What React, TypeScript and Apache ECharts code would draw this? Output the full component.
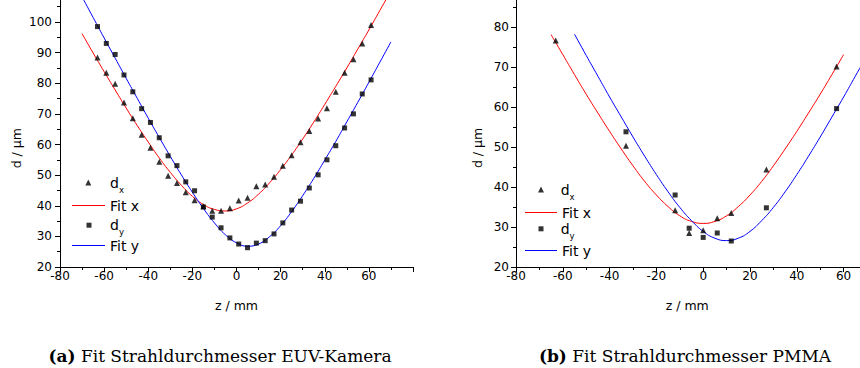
import { useEffect, useRef } from 'react';
import * as echarts from 'echarts';

// ---------- (a) EUV-Kamera ----------
const zA = [-63, -59, -55, -51, -47, -43, -39, -35, -31, -27, -23, -19, -15, -11, -7, -3, 1, 5, 9, 13, 17, 21, 25, 29, 33, 37, 41, 45, 49, 53, 57, 61];
const dxA = [88.4, 83.4, 79.8, 73.7, 68.6, 63.2, 58.9, 54.4, 49.8, 47.4, 44.4, 41.8, 39.8, 38.4, 38.4, 39.2, 41.7, 42.6, 46.4, 46.9, 49.5, 53.1, 56.5, 60.7, 64.4, 68.5, 71.8, 77.2, 83.4, 87.8, 93.0, 99.0];
const dyA = [98.5, 93.0, 89.4, 82.7, 77.2, 71.7, 67.2, 62.2, 56.3, 53.1, 47.8, 44.9, 39.6, 36.3, 32.8, 29.5, 27.5, 26.3, 27.8, 28.6, 30.8, 34.4, 38.6, 41.5, 45.8, 50.1, 55.0, 59.6, 65.4, 70.0, 76.5, 81.1];
const fitZA = [-70, -65, -60, -55, -50, -45, -40, -35, -30, -25, -20, -15, -10, -5, 0, 5, 10, 15, 20, 25, 30, 35, 40, 45, 50, 55, 60, 65, 70];
const fitXA = [96.2, 89.9, 83.8, 77.8, 71.9, 66.2, 60.8, 55.6, 50.9, 46.7, 43.1, 40.4, 38.8, 38.3, 39.0, 40.9, 43.8, 47.5, 51.8, 56.6, 61.8, 67.3, 73.1, 79.0, 85.0, 91.2, 97.4, 103.8, 110.1];
const fitYA = [108.2, 101.5, 94.8, 88.2, 81.6, 75.1, 68.6, 62.3, 56.1, 50.1, 44.4, 39.1, 34.4, 30.5, 27.9, 26.8, 27.5, 29.9, 33.5, 38.1, 43.3, 48.9, 54.9, 61.0, 67.4, 73.8, 80.3, 86.9, 93.5];

// ---------- (b) PMMA ----------
const zBx = [-63, -33, -12, -6, 0, 6, 12, 27, 57];
const dxB = [76.6, 50.3, 34.2, 28.5, 29.2, 32.2, 33.5, 44.4, 70.1];
const zBy = [-33, -12, -6, 0, 6, 12, 27, 57];
const dyB = [53.8, 38.0, 29.7, 27.4, 28.5, 26.5, 34.8, 59.6];
const fitZBx = [-65, -60, -55, -50, -45, -40, -35, -30, -25, -20, -15, -10, -5, 0, 5, 10, 15, 20, 25, 30, 35, 40, 45, 50, 55, 60];
const fitXB = [78.1, 73.1, 68.1, 63.2, 58.5, 53.9, 49.5, 45.3, 41.4, 38.0, 35.1, 32.8, 31.4, 30.9, 31.4, 32.8, 35.1, 38.0, 41.4, 45.3, 49.5, 53.9, 58.5, 63.2, 68.1, 73.1];
const fitZBy = [-55, -50, -45, -40, -35, -30, -25, -20, -15, -10, -5, 0, 5, 10, 15, 20, 25, 30, 35, 40, 45, 50, 55, 60, 65, 70];
const fitYB = [78.2, 72.9, 67.7, 62.5, 57.5, 52.5, 47.7, 43.1, 38.8, 34.9, 31.6, 28.9, 27.2, 26.6, 27.2, 28.9, 31.6, 34.9, 38.8, 43.1, 47.7, 52.5, 57.5, 62.5, 67.7, 72.9];

const xTickInterval = 20;
const yTickInterval = 10;
const xLabel = 'z / mm';
const yLabel = 'd / µm';
const captionA = 'Fit Strahldurchmesser EUV-Kamera';
const captionB = 'Fit Strahldurchmesser PMMA';

const SANS = 'DejaVu Sans';
const SERIF = 'DejaVu Serif';
const BLACK = '#000000';
const RED = '#ff0000';
const BLUE = '#0000ff';

const pairs = (xs: number[], ys: number[]) => xs.map((x, i) => [x, ys[i]]);

const xAxis = (gridIndex: number, nameShift: number) => ({
  type: 'value',
  gridIndex,
  min: -80,
  max: 80,
  interval: xTickInterval,
  name: xLabel,
  nameLocation: 'middle',
  nameGap: 32,
  nameTextStyle: { fontFamily: SANS, fontSize: 12.5, color: BLACK, padding: [0, nameShift, 0, 0] },
  axisLine: { show: true, onZero: false, lineStyle: { color: BLACK, width: 1 } },
  axisTick: { show: true, length: 5, lineStyle: { color: BLACK, width: 1 } },
  minorTick: { show: true, splitNumber: 2, length: 3, lineStyle: { color: BLACK, width: 1 } },
  axisLabel: { fontFamily: SANS, fontSize: 12, color: BLACK, margin: 3, showMaxLabel: false },
  splitLine: { show: false },
  minorSplitLine: { show: false },
});

const yAxis = (gridIndex: number, max: number, nameGap: number, nameShift: number, margin: number) => ({
  type: 'value',
  gridIndex,
  min: 20,
  max,
  interval: yTickInterval,
  name: yLabel,
  nameLocation: 'middle',
  nameGap,
  nameTextStyle: { fontFamily: SANS, fontSize: 12.5, color: BLACK, padding: [0, nameShift, 0, 0] },
  axisLine: { show: true, onZero: false, lineStyle: { color: BLACK, width: 1 } },
  axisTick: { show: true, length: 5, lineStyle: { color: BLACK, width: 1 } },
  minorTick: { show: true, splitNumber: 2, length: 3, lineStyle: { color: BLACK, width: 1 } },
  axisLabel: { fontFamily: SANS, fontSize: 12, color: BLACK, margin, showMaxLabel: false },
  splitLine: { show: false },
  minorSplitLine: { show: false },
});

const legendRich = {
  a: { fontFamily: SANS, fontSize: 14, lineHeight: 16, color: BLACK },
  s: { fontFamily: SANS, fontSize: 8.5, lineHeight: 10, padding: [14, 0, 0, 0], color: BLACK },
};

const legendEntry = (
  name: string,
  label: string,
  sub: string,
  left: number,
  top: number,
  itemWidth: number,
  itemHeight: number,
  textPad: number,
  icon?: string
) => ({
  show: true,
  left,
  top,
  padding: 0,
  orient: 'vertical',
  selectedMode: false,
  itemWidth,
  itemHeight,
  data: [icon ? { name, icon } : name],
  formatter: () => (sub ? `{a|${label}}{s|${sub}}` : `{a|${label}}`),
  textStyle: { fontFamily: SANS, fontSize: 14, color: BLACK, padding: [0, 0, 0, textPad], rich: legendRich },
});

const option = {
  animation: false,
  backgroundColor: '#ffffff',
  grid: [
    { left: 60, top: -8.625, width: 353, height: 275.625, containLabel: false, outerBoundsMode: 'none' },
    { left: 516, top: -13, width: 374.4, height: 280, containLabel: false, outerBoundsMode: 'none' },
  ],
  xAxis: [xAxis(0, 0), xAxis(1, 32)],
  yAxis: [yAxis(0, 110, 37, 38, 8), yAxis(1, 90, 32, 42, 7)],
  legend: [
    legendEntry('dx_a', 'd', 'x', 85.3, 171, 6, 6, 13.7),
    legendEntry('fitx_a', 'Fit x', '', 72, 198.5, 33, 1, 0, 'rect'),
    legendEntry('dy_a', 'd', 'y', 86.5, 213.7, 5, 5, 13.5),
    legendEntry('fity_a', 'Fit y', '', 72, 238.5, 33, 1, 0, 'rect'),
    legendEntry('dx_b', 'd', 'x', 538, 178, 6, 6, 11.7),
    legendEntry('fitx_b', 'Fit x', '', 525, 205.5, 32, 1, 0, 'rect'),
    legendEntry('dy_b', 'd', 'y', 538.5, 217.3, 5, 5, 12.2),
    legendEntry('fity_b', 'Fit y', '', 525, 243.5, 32, 1, 0, 'rect'),
  ],
  series: [
    { type: 'line', name: 'fitx_a', xAxisIndex: 0, yAxisIndex: 0, smooth: true, symbol: 'none', z: 2,
      lineStyle: { color: RED, width: 1 }, itemStyle: { color: RED }, data: pairs(fitZA, fitXA) },
    { type: 'line', name: 'fity_a', xAxisIndex: 0, yAxisIndex: 0, smooth: true, symbol: 'none', z: 2,
      lineStyle: { color: BLUE, width: 1 }, itemStyle: { color: BLUE }, data: pairs(fitZA, fitYA) },
    { type: 'scatter', name: 'dx_a', xAxisIndex: 0, yAxisIndex: 0, symbol: 'triangle', symbolSize: 6, z: 3,
      itemStyle: { color: BLACK }, data: pairs(zA, dxA) },
    { type: 'scatter', name: 'dy_a', xAxisIndex: 0, yAxisIndex: 0, symbol: 'rect', symbolSize: 5, z: 3,
      itemStyle: { color: BLACK }, data: pairs(zA, dyA) },

    { type: 'line', name: 'fitx_b', xAxisIndex: 1, yAxisIndex: 1, smooth: true, symbol: 'none', z: 2,
      lineStyle: { color: RED, width: 1 }, itemStyle: { color: RED }, data: pairs(fitZBx, fitXB) },
    { type: 'line', name: 'fity_b', xAxisIndex: 1, yAxisIndex: 1, smooth: true, symbol: 'none', z: 2,
      lineStyle: { color: BLUE, width: 1 }, itemStyle: { color: BLUE }, data: pairs(fitZBy, fitYB) },
    { type: 'scatter', name: 'dx_b', xAxisIndex: 1, yAxisIndex: 1, symbol: 'triangle', symbolSize: 6, z: 3,
      itemStyle: { color: BLACK }, data: pairs(zBx, dxB) },
    { type: 'scatter', name: 'dy_b', xAxisIndex: 1, yAxisIndex: 1, symbol: 'rect', symbolSize: 5, z: 3,
      itemStyle: { color: BLACK }, data: pairs(zBy, dyB) },
  ],
  graphic: [
    {
      type: 'text',
      x: 220,
      y: 356,
      style: {
        text: `{b|(a)} ${captionA}`,
        fontFamily: SERIF,
        fontSize: 17,
        fill: BLACK,
        align: 'center',
        verticalAlign: 'middle',
        rich: { b: { fontFamily: SERIF, fontSize: 17, fontWeight: 'bold', fill: BLACK } },
      },
    },
    {
      type: 'text',
      x: 685,
      y: 356,
      style: {
        text: `{b|(b)} ${captionB}`,
        fontFamily: SERIF,
        fontSize: 17,
        fill: BLACK,
        align: 'center',
        verticalAlign: 'middle',
        rich: { b: { fontFamily: SERIF, fontSize: 17, fontWeight: 'bold', fill: BLACK } },
      },
    },
  ],
};

export default function App() {
  const ref = useRef<HTMLDivElement>(null);
  useEffect(() => {
    if (!ref.current) return;
    const chart = echarts.init(ref.current, null, { renderer: 'svg' });
    chart.setOption(option as any);
    return () => chart.dispose();
  }, []);
  return (
    <div
      ref={ref}
      style={{ position: 'absolute', left: 0, top: 0, width: 860, height: 368, overflow: 'hidden', background: '#fff' }}
    />
  );
}
